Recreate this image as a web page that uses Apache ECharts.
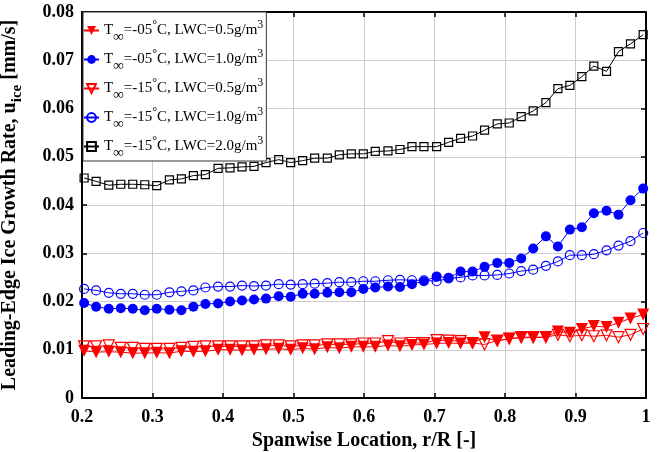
<!DOCTYPE html>
<html>
<head>
<meta charset="utf-8">
<script src="https://cdn.jsdelivr.net/npm/echarts@6/dist/echarts.min.js"></script>
<style>
  html, body { margin: 0; padding: 0; background: #fff; }
  #chart { width: 660px; height: 452px; }
</style>
</head>
<body>
<div id="chart"></div>
<script>
const spanX = [0.203, 0.220, 0.238, 0.255, 0.272, 0.289, 0.306, 0.324, 0.341, 0.358,
  0.375, 0.393, 0.410, 0.427, 0.444, 0.461, 0.479, 0.496, 0.513, 0.530,
  0.548, 0.565, 0.582, 0.599, 0.616, 0.634, 0.651, 0.668, 0.685, 0.703,
  0.720, 0.737, 0.754, 0.771, 0.789, 0.806, 0.823, 0.840, 0.858, 0.875,
  0.892, 0.909, 0.926, 0.944, 0.961, 0.978, 0.996];

const m05lwc05 = [0.0098, 0.0095, 0.0096, 0.0095, 0.0093, 0.0093, 0.0094, 0.0093, 0.0097, 0.0096,
  0.0097, 0.0100, 0.0100, 0.0099, 0.0100, 0.0101, 0.0102, 0.0100, 0.0103, 0.0101,
  0.0105, 0.0103, 0.0106, 0.0106, 0.0106, 0.0109, 0.0107, 0.0110, 0.0111, 0.0113,
  0.0114, 0.0113, 0.0114, 0.0126, 0.0118, 0.0123, 0.0125, 0.0125, 0.0126, 0.0138,
  0.0135, 0.0143, 0.0149, 0.0147, 0.0156, 0.0165, 0.0173];

const m05lwc10 = [0.0197, 0.0189, 0.0185, 0.0186, 0.0185, 0.0182, 0.0185, 0.0183, 0.0182, 0.0189,
  0.0195, 0.0196, 0.0200, 0.0202, 0.0204, 0.0206, 0.0211, 0.0210, 0.0216, 0.0216,
  0.0218, 0.0219, 0.0219, 0.0226, 0.0229, 0.0231, 0.0230, 0.0236, 0.0242, 0.0252,
  0.0249, 0.0262, 0.0262, 0.0272, 0.0280, 0.0280, 0.0289, 0.0310, 0.0335, 0.0314,
  0.0349, 0.0354, 0.0383, 0.0388, 0.0380, 0.0410, 0.0434];

const m15lwc05 = [0.0107, 0.0107, 0.0109, 0.0104, 0.0104, 0.0102, 0.0102, 0.0102, 0.0104, 0.0106,
  0.0107, 0.0107, 0.0107, 0.0107, 0.0107, 0.0109, 0.0109, 0.0107, 0.0109, 0.0109,
  0.0111, 0.0111, 0.0111, 0.0113, 0.0113, 0.0118, 0.0113, 0.0114, 0.0114, 0.0120,
  0.0119, 0.0118, 0.0114, 0.0111, 0.0119, 0.0123, 0.0126, 0.0126, 0.0126, 0.0131,
  0.0128, 0.0130, 0.0128, 0.0130, 0.0126, 0.0131, 0.0143];

const m15lwc10 = [0.0226, 0.0223, 0.0218, 0.0216, 0.0216, 0.0214, 0.0214, 0.0219, 0.0221, 0.0223,
  0.0229, 0.0231, 0.0231, 0.0233, 0.0232, 0.0233, 0.0236, 0.0235, 0.0236, 0.0237,
  0.0238, 0.0240, 0.0240, 0.0242, 0.0242, 0.0244, 0.0245, 0.0244, 0.0244, 0.0242,
  0.0248, 0.0250, 0.0254, 0.0254, 0.0255, 0.0258, 0.0263, 0.0266, 0.0274, 0.0283,
  0.0296, 0.0296, 0.0298, 0.0306, 0.0316, 0.0325, 0.0342];

const m15lwc20 = [0.0456, 0.0449, 0.0441, 0.0443, 0.0443, 0.0442, 0.0440, 0.0452, 0.0454, 0.0461,
  0.0463, 0.0476, 0.0477, 0.0479, 0.0480, 0.0488, 0.0494, 0.0488, 0.0492, 0.0497,
  0.0497, 0.0504, 0.0506, 0.0506, 0.0511, 0.0512, 0.0515, 0.0521, 0.0521, 0.0521,
  0.0530, 0.0538, 0.0543, 0.0555, 0.0568, 0.0570, 0.0583, 0.0595, 0.0612, 0.0641,
  0.0648, 0.0666, 0.0688, 0.0677, 0.0718, 0.0734, 0.0753];

const temps = ['-05', '-05', '-15', '-15', '-15'];
const lwcs = ['0.5', '1.0', '0.5', '1.0', '2.0'];
const xTicks = ['0.2', '0.3', '0.4', '0.5', '0.6', '0.7', '0.8', '0.9', '1'];
const yTicks = ['0', '0.01', '0.02', '0.03', '0.04', '0.05', '0.06', '0.07', '0.08'];

const serif = '"Liberation Serif", "DejaVu Serif", serif';

function pairs(ys) {
  return spanX.map((x, i) => [x, ys[i]]);
}

function seriesName(i) {
  return 'T=' + temps[i] + 'C, LWC=' + lwcs[i] + 'g/m3 #' + i;
}

const styles = [
  { data: m05lwc05, symbol: 'triangle', rotate: 180, size: 12, color: '#ff0000', filled: true },
  { data: m05lwc10, symbol: 'circle', rotate: 0, size: 10, color: '#0000ff', filled: true },
  { data: m15lwc05, symbol: 'triangle', rotate: 180, size: 11, color: '#ff0000', filled: false },
  { data: m15lwc10, symbol: 'circle', rotate: 0, size: 9, color: '#0000ff', filled: false },
  { data: m15lwc20, symbol: 'rect', rotate: 0, size: 8, color: '#000000', filled: false }
];

const series = styles.map((s, i) => ({
  name: seriesName(i),
  type: 'line',
  data: pairs(s.data),
  symbol: s.symbol,
  symbolRotate: s.rotate,
  symbolSize: s.size,
  showAllSymbol: true,
  lineStyle: { color: s.color, width: 1 },
  itemStyle: {
    color: s.filled ? s.color : 'rgba(255,255,255,0)',
    borderColor: s.color,
    borderWidth: s.filled ? 0 : 1.2
  },
  emphasis: { disabled: true },
  animation: false
}));

const chart = echarts.init(document.getElementById('chart'), null, { renderer: 'canvas' });

// sub/superscripts are nudged with padding (shift = half the padding)
const legendRich = {
  t: { fontFamily: serif, fontSize: 15, color: '#000', lineHeight: 24, verticalAlign: 'middle' },
  sub: { fontFamily: serif, fontSize: 15, color: '#000', lineHeight: 10, verticalAlign: 'middle', padding: [14, 0, 0, 0] },
  sup: { fontFamily: serif, fontSize: 12, color: '#000', lineHeight: 10, verticalAlign: 'middle', padding: [0, 0, 12, 0] }
};

chart.setOption({
  backgroundColor: '#fff',
  animation: false,
  grid: { left: 82, right: 14, top: 12, bottom: 54, outerBoundsMode: 'none' },
  legend: {
    orient: 'vertical',
    left: 83,
    top: 12,
    padding: [4, 3, 0, 0],
    itemGap: 0,
    itemWidth: 15,
    itemHeight: 11,
    backgroundColor: '#fff',
    borderColor: '#333',
    borderWidth: 1,
    data: series.map(s => s.name),
    formatter: name => {
      const i = Number(name.split('#')[1]);
      return '{t|T}{sub|∞}{t|=' + temps[i] + '}{sup|°}{t|C, LWC=' + lwcs[i] + 'g/m}{sup|3}';
    },
    textStyle: { rich: legendRich }
  },
  xAxis: [
    {
      type: 'value',
      min: 0.2,
      max: 1,
      interval: 0.1,
      position: 'bottom',
      name: 'Spanwise Location, r/R [-]',
      nameLocation: 'middle',
      nameGap: 30,
      nameTextStyle: { fontFamily: serif, fontSize: 20, fontWeight: 'bold', color: '#000' },
      axisLine: { onZero: false, lineStyle: { color: '#000', width: 2 } },
      axisTick: { inside: true, length: 5, lineStyle: { color: '#000', width: 1.5 } },
      axisLabel: {
        fontFamily: serif, fontSize: 18, fontWeight: 'bold', color: '#000', margin: 10,
        formatter: v => xTicks[Math.round((v - 0.2) * 10)]
      },
      splitLine: { show: true, lineStyle: { color: '#cccccc', width: 1 } }
    },
    {
      type: 'value',
      min: 0.2,
      max: 1,
      interval: 0.1,
      position: 'top',
      axisLine: { onZero: false, lineStyle: { color: '#000', width: 2 } },
      axisTick: { inside: true, length: 5, lineStyle: { color: '#000', width: 1.5 } },
      axisLabel: { show: false },
      splitLine: { show: false }
    }
  ],
  yAxis: [
    {
      type: 'value',
      min: 0,
      max: 0.08,
      interval: 0.01,
      position: 'left',
      name: 'Leading-Edge Ice Growth Rate, u{sub|ice} [mm/s]',
      nameLocation: 'middle',
      nameGap: 57,
      nameTextStyle: {
        fontFamily: serif, fontSize: 20, fontWeight: 'bold', color: '#000',
        rich: {
          sub: { fontFamily: serif, fontSize: 15, fontWeight: 'bold', color: '#000', lineHeight: 13, verticalAlign: 'bottom' }
        },
        lineHeight: 30
      },
      axisLine: { onZero: false, lineStyle: { color: '#000', width: 2 } },
      axisTick: { inside: true, length: 5, lineStyle: { color: '#000', width: 1.5 } },
      axisLabel: {
        fontFamily: serif, fontSize: 18, fontWeight: 'bold', color: '#000', margin: 8,
        formatter: v => yTicks[Math.round(v * 100)]
      },
      splitLine: { show: true, lineStyle: { color: '#cccccc', width: 1 } }
    },
    {
      type: 'value',
      min: 0,
      max: 0.08,
      interval: 0.01,
      position: 'right',
      axisLine: { onZero: false, lineStyle: { color: '#000', width: 2 } },
      axisTick: { inside: true, length: 5, lineStyle: { color: '#000', width: 1.5 } },
      axisLabel: { show: false },
      splitLine: { show: false }
    }
  ],
  series: series
});
</script>
</body>
</html>
